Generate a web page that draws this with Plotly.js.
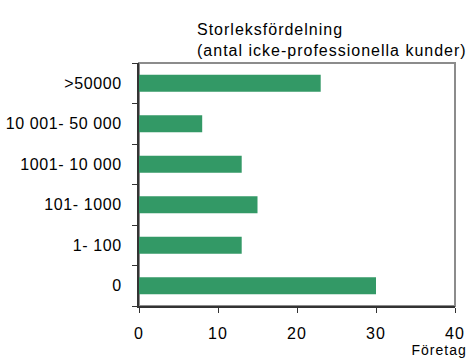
<!DOCTYPE html>
<html>
<head>
<meta charset="utf-8">
<script src="https://cdn.plot.ly/plotly-3.0.1.min.js"></script>
<style>html,body{margin:0;padding:0;background:#fff;}#chart{width:471px;height:358px;}
#chart text{letter-spacing:1px;}
#chart .ytick text{letter-spacing:0.6px;}</style>
</head>
<body>
<div id="chart"></div>
<script>
const categories = ["0", "1- 100", "101- 1000", "1001- 10 000", "10 001- 50 000", ">50000"];
const values = [30, 13, 15, 13, 8, 23];
const titleLines = ["Storleksfördelning", "(antal icke-professionella kunder)"];
const xTitle = "Företag";

const font = {family: "Liberation Sans, Arial, sans-serif", size: 16, color: "#000"};

const data = [{
  type: "bar",
  orientation: "h",
  y: categories,
  x: values,
  marker: {color: "#339966"},
  hoverinfo: "x+y"
}];

const layout = {
  width: 471, height: 358,
  margin: {l: 139, r: 16, t: 63, b: 52},
  paper_bgcolor: "#fff", plot_bgcolor: "#fff",
  font: font,
  showlegend: false,
  bargap: 0.58,
  xaxis: {
    range: [0, 40], tickvals: [0, 10, 20, 30, 40],
    showgrid: false, zeroline: false,
    showline: true, linecolor: "#333", linewidth: 2,
    ticks: "outside", ticklen: 5, tickcolor: "#333", tickwidth: 1,
    ticklabelstandoff: 7,
    tickfont: font, fixedrange: true
  },
  yaxis: {
    type: "category",
    categoryorder: "array", categoryarray: categories,
    showgrid: false, zeroline: false,
    showline: true, linecolor: "#333", linewidth: 2,
    ticks: "outside", ticklen: 5, tickcolor: "#333", tickwidth: 1,
    tickson: "boundaries",
    ticklabelstandoff: 12,
    tickfont: font, fixedrange: true
  },
  shapes: [{
    type: "rect", xref: "paper", yref: "paper", x0: 0, x1: 1, y0: 0, y1: 1,
    line: {color: "#8c8c8c", width: 2}, layer: "below"
  }],
  annotations: [{
    xref: "paper", yref: "paper", x: (195 - 139) / 316, y: 1,
    xanchor: "left", yanchor: "bottom", yshift: 2, align: "left",
    text: titleLines.join("<br>"), showarrow: false, font: font
  }, {
    xref: "paper", yref: "paper", x: 1, y: 0,
    xanchor: "right", yanchor: "middle", xshift: 10, yshift: -44,
    text: xTitle, showarrow: false, font: {family: font.family, size: 14, color: "#000"}
  }]
};

Plotly.newPlot("chart", data, layout, {displayModeBar: false, staticPlot: true});
</script>
</body>
</html>
